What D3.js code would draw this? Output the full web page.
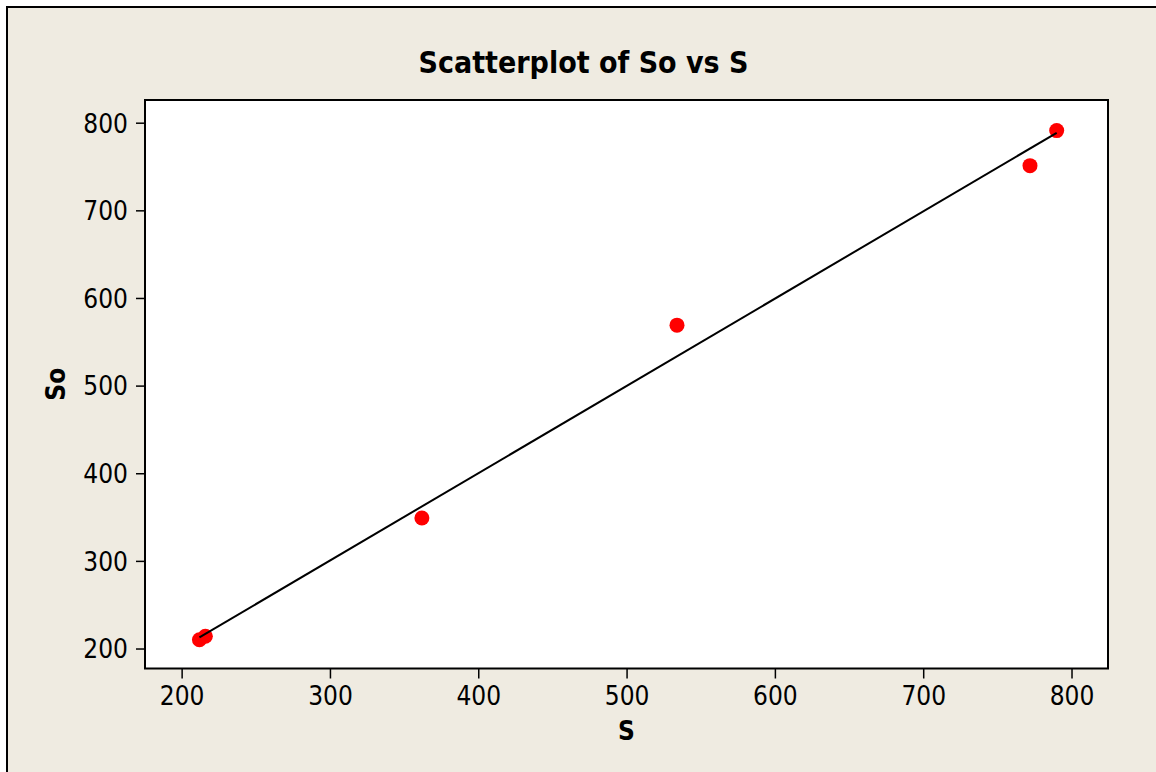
<!DOCTYPE html>
<html>
<head>
<meta charset="utf-8">
<script src="https://cdn.jsdelivr.net/npm/d3@7"></script>
<style>
  body { margin: 0; background: #ffffff; }
  svg { display: block; }
  text { font-family: "DejaVu Sans Condensed", "Noto Sans", "DejaVu Sans", sans-serif; }
</style>
</head>
<body>
<svg id="chart" width="1156" height="772"></svg>
<script>
// Paired observations: S on the horizontal axis, So on the vertical axis
const sValues  = [212, 216, 362, 534, 772, 790];
const soValues = [210, 214, 349, 569, 751, 791];

// Axis ticks and visible axis ranges
const xTicks = [200, 300, 400, 500, 600, 700, 800];
const yTicks = [200, 300, 400, 500, 600, 700, 800];
const xDomain = [175.3, 824.6];
const yDomain = [177.2, 825.9];

const titleText = "Scatterplot of So vs S";
const xLabel = "S";
const yLabel = "So";

const W = 1156, H = 772;
const plot = { left: 145, right: 1108, top: 100, bottom: 668.5 };

const svg = d3.select("#chart");

// Beige graph region with its frame
svg.append("rect")
  .attr("x", 0).attr("y", 0).attr("width", W).attr("height", H)
  .attr("fill", "#ffffff");
svg.append("rect")
  .attr("x", 7).attr("y", 7).attr("width", W + 20).attr("height", H + 20)
  .attr("fill", "#efebe1")
  .attr("stroke", "#000").attr("stroke-width", 2);

const x = d3.scaleLinear().domain(xDomain).range([plot.left, plot.right]);
const y = d3.scaleLinear().domain(yDomain).range([plot.bottom, plot.top]);

// White data region
svg.append("rect")
  .attr("x", plot.left).attr("y", plot.top)
  .attr("width", plot.right - plot.left).attr("height", plot.bottom - plot.top)
  .attr("fill", "#ffffff");

// Axes
const xAxis = svg.append("g")
  .attr("transform", `translate(0,${plot.bottom})`)
  .call(d3.axisBottom(x).tickValues(xTicks).tickSizeOuter(0).tickSize(10).tickPadding(6));
const yAxis = svg.append("g")
  .attr("transform", `translate(${plot.left},0)`)
  .call(d3.axisLeft(y).tickValues(yTicks).tickSizeOuter(0).tickSize(9).tickPadding(8));

[xAxis, yAxis].forEach(g => {
  g.select(".domain").remove();
  g.selectAll(".tick line").attr("stroke", "#000").attr("stroke-width", 1.5);
  g.selectAll(".tick text")
    .attr("fill", "#000")
    .style("font-size", "26px")
    .style("font-family", null);
});
xAxis.selectAll(".tick text").attr("dy", "0.78em");
yAxis.selectAll(".tick text").attr("dy", "0.36em");

// Least-squares fitted line across the range of S
const n = sValues.length;
const mx = d3.mean(sValues), my = d3.mean(soValues);
let sxy = 0, sxx = 0;
for (let i = 0; i < n; i++) {
  sxy += (sValues[i] - mx) * (soValues[i] - my);
  sxx += (sValues[i] - mx) ** 2;
}
const slope = sxy / sxx, intercept = my - slope * mx;
const [xMin, xMax] = d3.extent(sValues);
const fitLine = d3.line().x(d => x(d)).y(d => y(intercept + slope * d));

// Points
svg.append("g").selectAll("circle")
  .data(sValues.map((s, i) => ({ s, so: soValues[i] })))
  .join("circle")
  .attr("cx", d => x(d.s))
  .attr("cy", d => y(d.so))
  .attr("r", 7.5)
  .attr("fill", "#ff0000");

svg.append("path")
  .datum([xMin, xMax])
  .attr("d", fitLine)
  .attr("fill", "none")
  .attr("stroke", "#000")
  .attr("stroke-width", 2);

// Plot border
svg.append("rect")
  .attr("x", plot.left).attr("y", plot.top)
  .attr("width", plot.right - plot.left).attr("height", plot.bottom - plot.top)
  .attr("fill", "none")
  .attr("stroke", "#000").attr("stroke-width", 2);

// Titles
svg.append("text")
  .attr("x", 583.5).attr("y", 73)
  .attr("text-anchor", "middle")
  .style("font-size", "30px").style("font-weight", "bold")
  .text(titleText);

svg.append("text")
  .attr("x", (plot.left + plot.right) / 2).attr("y", 740)
  .attr("text-anchor", "middle")
  .style("font-size", "26px").style("font-weight", "bold")
  .text(xLabel);

svg.append("text")
  .attr("transform", `translate(65,${(plot.top + plot.bottom) / 2}) rotate(-90)`)
  .attr("text-anchor", "middle")
  .style("font-size", "26px").style("font-weight", "bold")
  .text(yLabel);
</script>
</body>
</html>
